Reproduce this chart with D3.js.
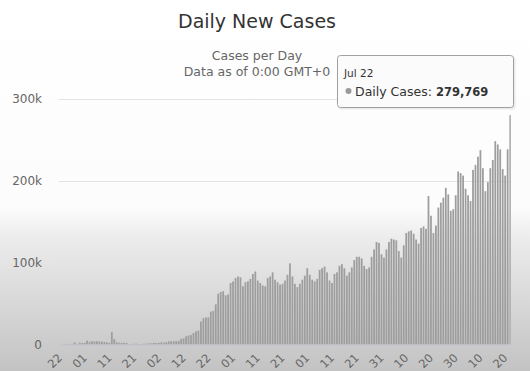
<!DOCTYPE html>
<html>
<head>
<meta charset="utf-8">
<script src="https://cdn.jsdelivr.net/npm/d3@7/dist/d3.min.js"></script>
<style>
  body { margin: 0; background: #fff; }
  svg { display: block; font-family: "DejaVu Sans", sans-serif; }
</style>
</head>
<body>
<svg id="chart" width="530" height="371"></svg>
<script>
// daily new cases per month (2020), Jan 22 .. Jul 22
var casesJan = [100, 99, 287, 493, 684, 809, 2651, 588, 2068, 1693];
var casesFeb = [2111, 4749, 3100, 4011, 3743, 3915, 3700, 3400, 3000, 2600,
  2000, 15133, 6500, 2600, 2100, 2000, 2000, 1800, 500, 600,
  1000, 1000, 500, 600, 900, 1000, 1300, 1500, 2000];
var casesMar = [1800, 2000, 2500, 2200, 2800, 3900, 3900, 4000, 4000, 4500,
  7000, 7500, 10000, 11000, 11500, 14000, 16000, 17000, 28000, 32000,
  33000, 33000, 40000, 41000, 49000, 62000, 64000, 65000, 60000, 61000, 75000];
var casesApr = [77000, 81000, 83000, 82000, 71000, 76000, 77000, 80000, 86000, 89000,
  78000, 75000, 72000, 71000, 81000, 83000, 88000, 79000, 76000, 73000,
  74000, 78000, 85000, 99000, 83000, 74000, 70000, 74000, 79000, 84000];
var casesMay = [93000, 85000, 79000, 77000, 80000, 91000, 93000, 95000, 88000, 78000,
  75000, 86000, 88000, 96000, 98000, 93000, 84000, 88000, 94000, 103000,
  107000, 107000, 105000, 96000, 92000, 94000, 107000, 116000, 125000, 124000, 110000];
var casesJun = [106000, 116000, 125000, 129000, 128000, 127000, 114000, 106000, 121000, 136000,
  138000, 139000, 135000, 128000, 123000, 142000, 144000, 141000, 181000, 157000,
  136000, 145000, 167000, 173000, 179000, 191000, 183000, 163000, 165000, 182000];
var casesJul = [211000, 209000, 206000, 190000, 182000, 175000, 213000, 219000, 229000, 237000,
  215000, 187000, 198000, 215000, 225000, 248000, 244000, 238000, 214000, 206000,
  238000, 279769];

// every 10th day gets a label; only the day part shows above the frame edge
var tickLabels = ["Jan 22", "Feb 01", "Feb 11", "Feb 21", "Mar 02", "Mar 12", "Mar 22",
  "Apr 01", "Apr 11", "Apr 21", "May 01", "May 11", "May 21", "May 31",
  "Jun 10", "Jun 20", "Jun 30", "Jul 10", "Jul 20"];
var yTicks = [0, 100000, 200000, 300000];

var cases = [].concat(casesJan, casesFeb, casesMar, casesApr, casesMay, casesJun, casesJul);
var fmtDay = d3.timeFormat("%b %d");
var days = d3.timeDay.range(new Date(2020, 0, 22), new Date(2020, 6, 23)).map(fmtDay);
var data = days.map(function(d, i) { return {day: d, value: cases[i]}; });

var svg = d3.select("#chart");

// video-ish background fade
var defs = svg.append("defs");
var grad = defs.append("linearGradient").attr("id", "bg")
  .attr("x1", 0).attr("y1", 0).attr("x2", 0).attr("y2", 1);
grad.append("stop").attr("offset", "0").attr("stop-color", "#ffffff");
grad.append("stop").attr("offset", "0.56").attr("stop-color", "#fcfcfc");
grad.append("stop").attr("offset", "0.64").attr("stop-color", "#ececec");
grad.append("stop").attr("offset", "1").attr("stop-color", "#c3c3c3");
svg.append("rect").attr("width", 530).attr("height", 371).attr("fill", "url(#bg)");

var x = d3.scaleBand()
  .domain(data.map(function(d) { return d.day; }))
  .range([59, 511])
  .paddingInner(0.28);

var y = d3.scaleLinear()
  .domain([0, 300000])
  .range([344.5, 98.5]);

// grid
svg.append("g")
  .selectAll("line")
  .data(yTicks.slice(1)).enter().append("line")
  .attr("x1", 59).attr("x2", 511)
  .attr("y1", function(d) { return Math.round(y(d)) + 0.5; })
  .attr("y2", function(d) { return Math.round(y(d)) + 0.5; })
  .attr("stroke", "#e3e3e3");

// y labels
svg.append("g")
  .selectAll("text")
  .data(yTicks).enter().append("text")
  .attr("x", 42)
  .attr("y", function(d) { return y(d); })
  .attr("dy", "0.35em")
  .attr("text-anchor", "end")
  .style("font-size", "12px")
  .style("fill", "#666")
  .text(function(d) { return d === 0 ? "0" : d3.format("~s")(d); });

// bars
svg.append("g")
  .selectAll("rect")
  .data(data).enter().append("rect")
  .attr("x", function(d) { return x(d.day); })
  .attr("width", x.bandwidth())
  .attr("y", function(d) { return y(d.value); })
  .attr("height", function(d) { return y(0) - y(d.value); })
  .attr("fill", function(d, i) { return i === data.length - 1 ? "#b4b4b4" : "#9e9e9e"; });

// x axis
var xAxis = d3.axisBottom(x)
  .tickValues(tickLabels)
  .tickFormat(function(d) { return d.slice(4); })
  .tickSize(0)
  .tickPadding(0);

var gx = svg.append("g")
  .attr("transform", "translate(0," + y(0) + ")")
  .call(xAxis);
gx.select(".domain").attr("stroke", "#c2c2cc");
gx.selectAll("text")
  .attr("y", 0).attr("dy", 0)
  .attr("transform", "translate(3,14) rotate(-45)")
  .attr("text-anchor", "end")
  .style("font-size", "11.5px")
  .style("font-family", "DejaVu Sans, sans-serif")
  .style("fill", "#666");

// titles
svg.append("text")
  .attr("x", 257).attr("y", 28)
  .attr("text-anchor", "middle")
  .style("font-size", "19px")
  .style("fill", "#333")
  .text("Daily New Cases");

svg.append("text")
  .attr("x", 257).attr("y", 60)
  .attr("text-anchor", "middle")
  .style("font-size", "12.5px")
  .style("fill", "#666")
  .text("Cases per Day");

svg.append("text")
  .attr("x", 257).attr("y", 76)
  .attr("text-anchor", "middle")
  .style("font-size", "12.5px")
  .style("fill", "#666")
  .text("Data as of 0:00 GMT+0");

// tooltip for last point
var last = data[data.length - 1];
var tip = svg.append("g").attr("transform", "translate(337,55)");
tip.append("rect")
  .attr("x", 1.5).attr("y", 1.5)
  .attr("width", 177).attr("height", 53)
  .attr("rx", 3)
  .attr("fill", "rgba(0,0,0,0.08)");
tip.append("rect")
  .attr("x", 0.5).attr("y", 0.5)
  .attr("width", 176).attr("height", 52)
  .attr("rx", 3)
  .attr("fill", "#fbfbfb")
  .attr("stroke", "#a0a0a0");
tip.append("text")
  .attr("x", 7).attr("y", 22)
  .style("font-size", "10.5px")
  .style("fill", "#333")
  .text(last.day);
tip.append("circle")
  .attr("cx", 11.5).attr("cy", 36)
  .attr("r", 3)
  .attr("fill", "#9a9a9a");
var line = tip.append("text")
  .attr("x", 18).attr("y", 40.5)
  .style("font-size", "12.5px")
  .style("fill", "#333");
line.append("tspan").text("Daily Cases: ");
line.append("tspan")
  .style("font-weight", "bold")
  .style("font-size", "11.5px")
  .text(d3.format(",")(last.value));
</script>
</body>
</html>
